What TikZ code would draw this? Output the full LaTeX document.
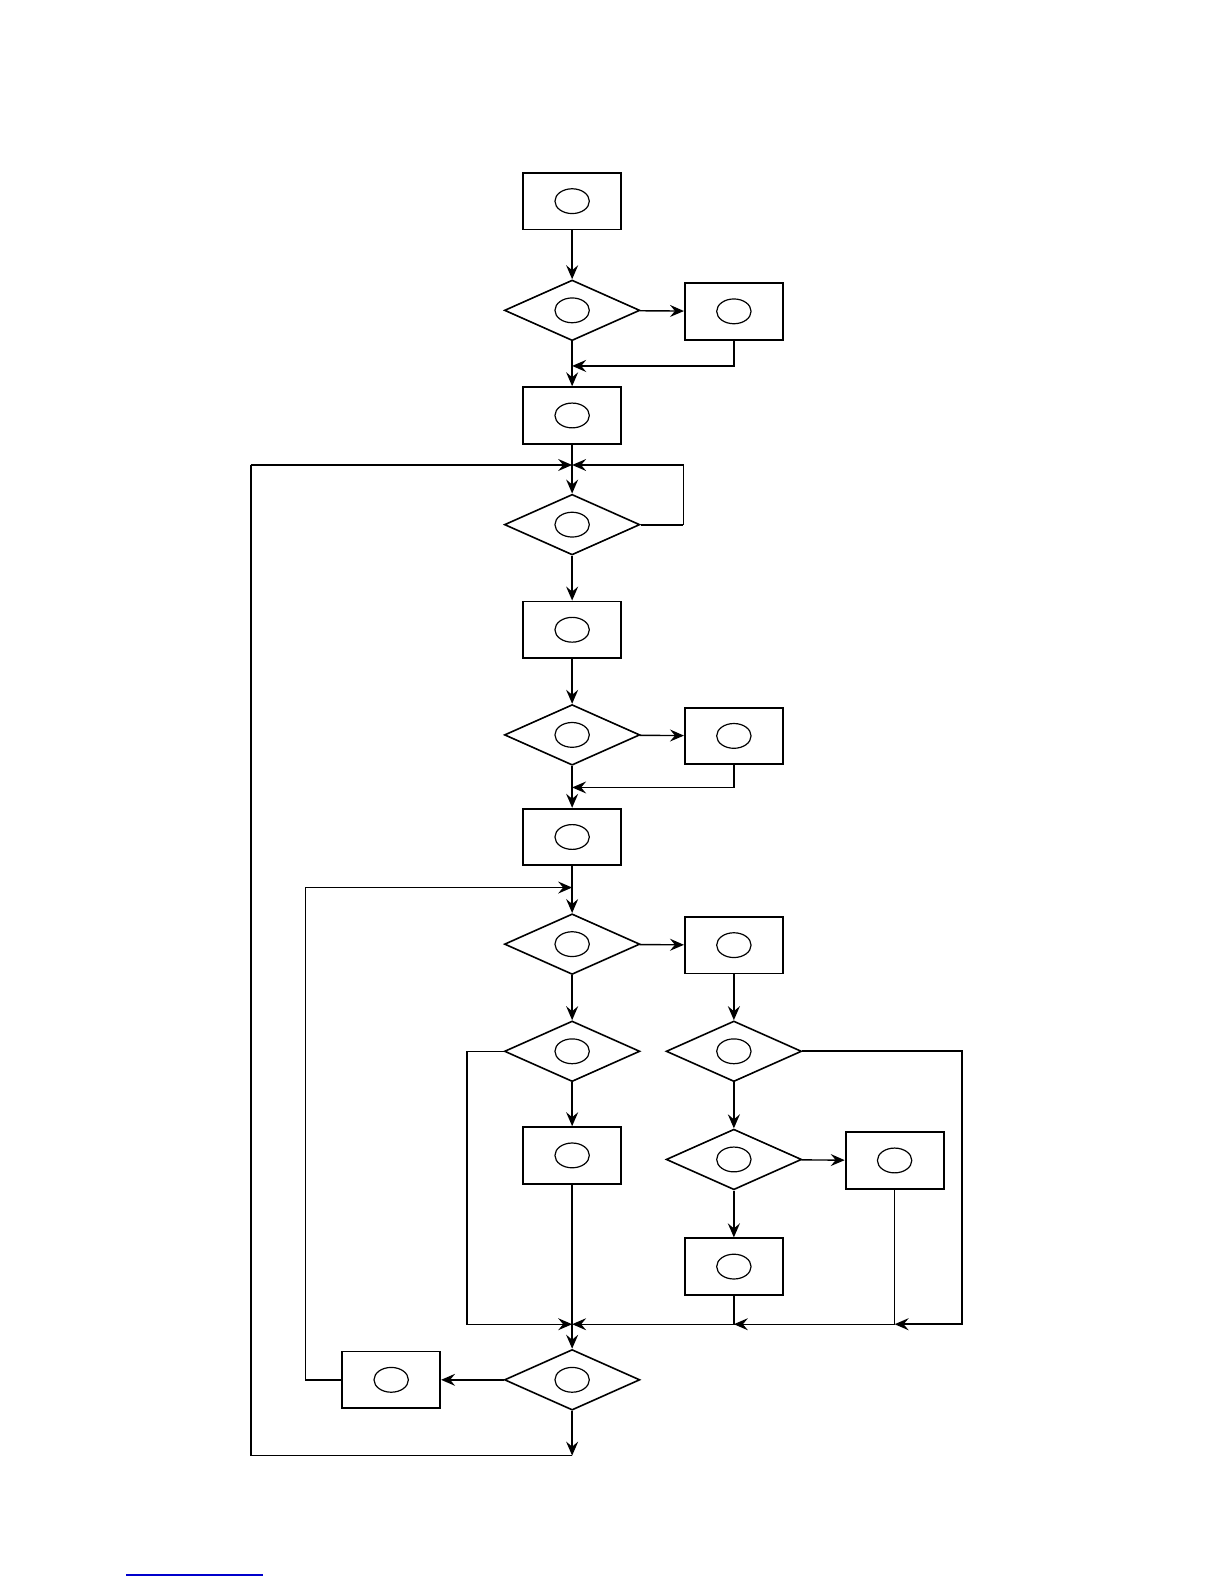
\documentclass[tikz,border=0pt]{standalone}
\usetikzlibrary{arrows, arrows.meta, shapes.geometric}
\tikzset{
    box/.style={draw, line width=0.9pt, minimum width=49pt, minimum height=28.3pt, inner sep=0pt},
    decision/.style={draw, diamond, line width=0.8pt, minimum width=67.7pt, minimum height=30.3pt, inner sep=0pt},
    flow/.style={line width=0.7pt, -{Stealth[length=7pt, width=6pt, inset=2.5pt]}},
    heavy/.style={line width=1.05pt},
}
\begin{document}
\begin{tikzpicture}[x=0.5054pt, y=-0.5054pt]
            \useasboundingbox (0,0) rectangle (1211,1567);
            % main column
            \node[box] (b1) at (566,199) {};
            \node[decision] (d1) at (566,307) {};
            \node[box] (b2) at (726,308) {};
            \node[box] (b3) at (566,411) {};
            \node[decision] (d2) at (566,519) {};
            \node[box] (b4) at (566,623) {};
            \node[decision] (d3) at (566,727) {};
            \node[box] (b5) at (726,728) {};
            \node[box] (b6) at (566,828) {};
            \node[decision] (d4) at (566,934) {};
            \node[box] (b7) at (726,935) {};
            \node[decision] (d5) at (566,1040) {};
            \node[decision] (d6) at (726,1040) {};
            \node[box] (b8) at (566,1143) {};
            \node[decision] (d7) at (726,1147) {};
            \node[box] (b9) at (885,1148) {};
            \node[box] (b10) at (726,1253) {};
            \node[decision] (d8) at (566,1365) {};
            \node[box] (b11) at (387,1365) {};
            \foreach \n in {b1,d1,b2,b3,d2,b4,d3,b5,b6,d4,b7,d5,d6,b8,d7,b9,b10,d8,b11}
                \draw[line width=0.6pt] (\n.center) ellipse (8.6pt and 6.2pt);
            % merge points
            \coordinate (m1) at (566,362);
            \coordinate (m2) at (566,460);
            \coordinate (m3) at (566,779);
            \coordinate (m4) at (566,878);
            \coordinate (m5) at (566,1310);
            \coordinate (m6) at (726,1310);
            \coordinate (m7) at (885,1310);
            \coordinate (m8) at (566,1440);
            \coordinate (r1) at (676,519);
            \coordinate (c1) at (248,1440);
            \coordinate (c5) at (248,460);
            \coordinate (c2) at (302,1365);
            \coordinate (c3) at (462,1040);
            \coordinate (c4) at (952,1040);
            % connectors
            \draw[flow] (b1) -- (d1);
            \draw[flow] (d1) -- (b2);
            \draw[flow] (d1) -- (b3);
            \draw[flow, heavy] (b2.south) |- (m1);
            \draw[flow] (b3) -- (d2);
            \draw[heavy] (d2.east) -- (r1);
            \draw[flow] (r1) |- (m2);
            \draw[flow] (d8) -- (m8);
            \draw[line width=0.7pt] (m8) -- (c1);
            \draw[heavy] (c1) -- (c5);
            \draw[flow] (c5) -- (m2);
            \draw[flow] (d2) -- (b4);
            \draw[flow] (b4) -- (d3);
            \draw[flow] (d3) -- (b5);
            \draw[flow] (b5.south) |- (m3);
            \draw[flow] (d3) -- (b6);
            \draw[flow] (b6) -- (d4);
            \draw[flow] (b11.west) -- (c2) |- (m4);
            \draw[flow] (d4) -- (b7);
            \draw[flow] (d4) -- (d5);
            \draw[flow, heavy] (b7) -- (d6);
            \draw[flow] (d5) -- (b8);
            \draw[flow] (d5.west) -- (c3) |- (m5);
            \draw[flow] (b8) -- (d8);
            \draw[flow] (b10.south) |- (m5);
            \draw[flow] (b9.south) |- (m6);
            \draw[flow, heavy] (d6.east) -- (c4) |- (m7);
            \draw[flow, heavy] (d6) -- (d7);
            \draw[flow] (d7) -- (b9);
            \draw[flow, heavy] (d7) -- (b10);
            \draw[flow] (d8) -- (b11);
            \draw[blue!80!black, line width=0.6pt] (125,1558) -- (260,1558);
        \end{tikzpicture}
\end{document}
